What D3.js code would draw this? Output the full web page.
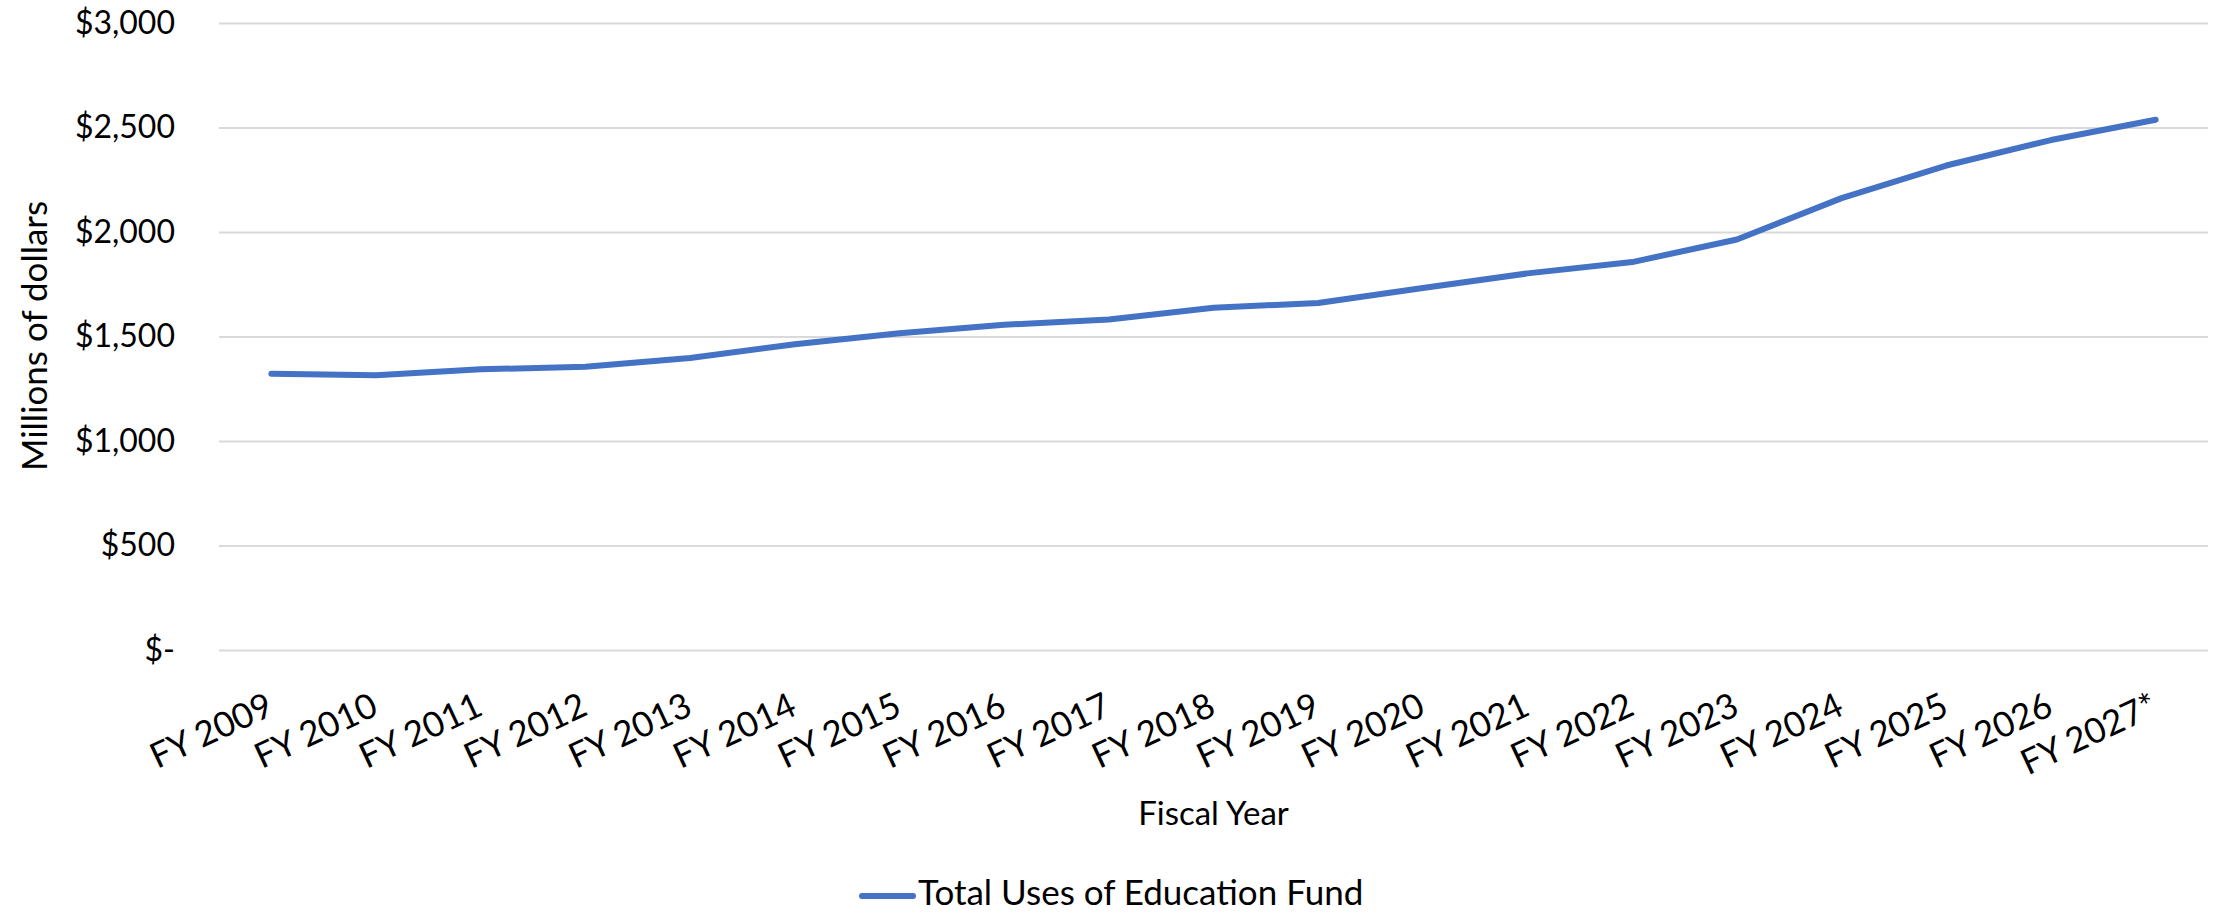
<!DOCTYPE html>
<html>
<head>
<meta charset="utf-8">
<script src="https://cdn.jsdelivr.net/npm/d3@7"></script>
<style>
  body { margin: 0; background: #fff; }
  text { font-family: Lato, "Open Sans", sans-serif; fill: #000; }
</style>
</head>
<body>
<script>
// chart data
var years = ["FY 2009", "FY 2010", "FY 2011", "FY 2012", "FY 2013", "FY 2014", "FY 2015",
	"FY 2016", "FY 2017", "FY 2018", "FY 2019", "FY 2020", "FY 2021", "FY 2022",
	"FY 2023", "FY 2024", "FY 2025", "FY 2026", "FY 2027*"];
var totalUses = [1322, 1315, 1343, 1355, 1397, 1463, 1516, 1556, 1581, 1638, 1660,
	1732, 1802, 1856, 1964, 2162, 2318, 2440, 2537];
var yTicks = [0, 500, 1000, 1500, 2000, 2500, 3000];
var seriesName = "Total Uses of Education Fund";

var width = 2216, height = 913;
var plotLeft = 219, plotRight = 2208, plotTop = 23, plotBottom = 650;
var blue = "#4472C4";

var svg = d3.select("body").append("svg")
	.attr("width", width)
	.attr("height", height);

var x = d3.scaleBand().domain(years).range([plotLeft, plotRight]).padding(0);
var y = d3.scaleLinear().domain([0, 3000]).range([plotBottom, plotTop]);

//gridlines
var grid = svg.append("g")
	.attr("transform", "translate(" + plotLeft + ",0)")
	.call(d3.axisLeft(y).tickValues(yTicks).tickSize(-(plotRight - plotLeft)).tickFormat(""));
grid.select(".domain").remove();
grid.selectAll("line").attr("stroke", "#d9d9d9").attr("stroke-width", 2);

//y axis labels
var fmt = d3.format(",");
var yAxis = svg.append("g")
	.attr("transform", "translate(" + plotLeft + ",0)")
	.call(d3.axisLeft(y).tickValues(yTicks).tickSize(0).tickPadding(44)
		.tickFormat(function(d){ return d == 0 ? "$-" : "$" + fmt(d); }));
yAxis.select(".domain").remove();
yAxis.selectAll("text")
	.attr("font-size", 32)
	.attr("font-family", "Lato")
	.attr("fill", "#000");

//x axis labels, rotated
svg.append("g").selectAll("text")
	.data(years)
	.enter().append("text")
	.attr("transform", function(d){
		return "translate(" + (x(d) + x.bandwidth() / 2 + 4) + ",714) rotate(-25)";
	})
	.attr("text-anchor", "end")
	.attr("font-size", 35)
	.text(function(d){ return d; });

//line
var line = d3.line()
	.x(function(d, i){ return x(years[i]) + x.bandwidth() / 2; })
	.y(function(d){ return y(d); });

svg.append("path")
	.datum(totalUses)
	.attr("d", line)
	.attr("fill", "none")
	.attr("stroke", blue)
	.attr("stroke-width", 6)
	.attr("stroke-linejoin", "round")
	.attr("stroke-linecap", "round");

//axis titles
svg.append("text")
	.attr("x", (plotLeft + plotRight) / 2)
	.attr("y", 825)
	.attr("text-anchor", "middle")
	.attr("font-size", 33)
	.text("Fiscal Year");

svg.append("text")
	.attr("transform", "translate(47,336) rotate(-90)")
	.attr("text-anchor", "middle")
	.attr("font-size", 35)
	.text("Millions of dollars");

//legend
var legend = svg.append("g");
legend.append("line")
	.attr("x1", 862).attr("x2", 913)
	.attr("y1", 896).attr("y2", 896)
	.attr("stroke", blue)
	.attr("stroke-width", 6)
	.attr("stroke-linecap", "round");
legend.append("text")
	.attr("x", 918)
	.attr("y", 905)
	.attr("font-size", 35)
	.text(seriesName);
</script>
</body>
</html>
